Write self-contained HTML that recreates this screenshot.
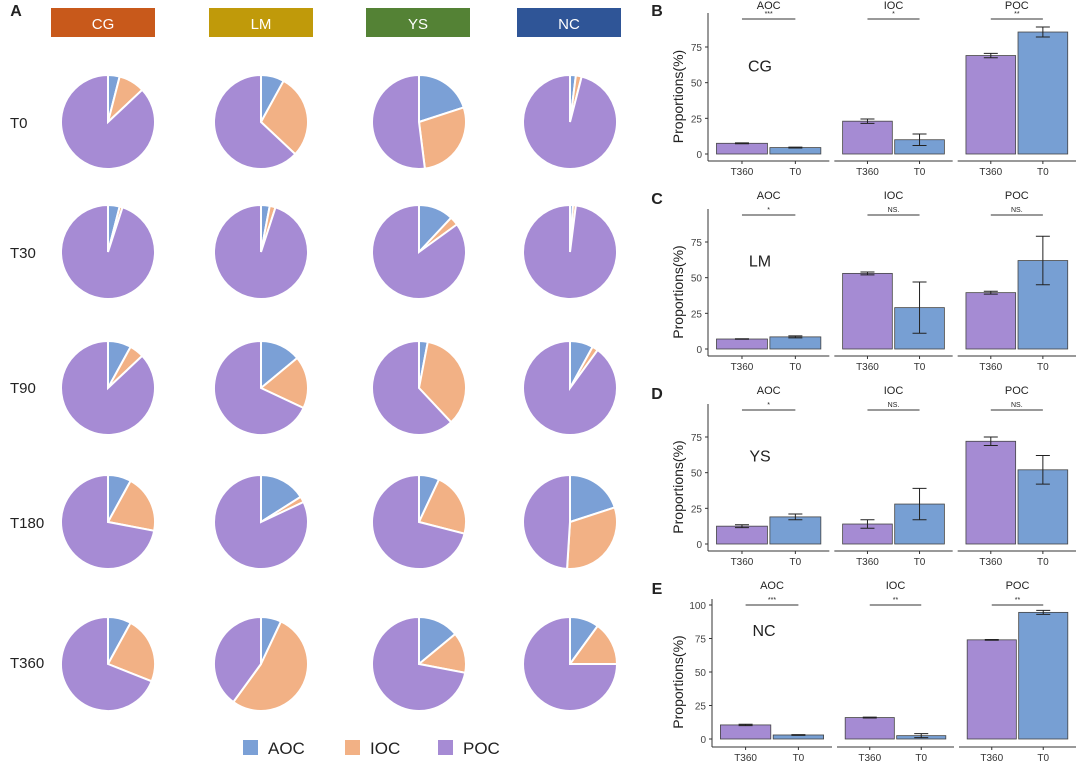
<!DOCTYPE html>
<html><head><meta charset="utf-8"><style>
body{margin:0;background:#fff;}
svg{display:block;font-family:"Liberation Sans",Arial,sans-serif;}
</style></head><body>
<svg id="s" width="1080" height="764" viewBox="0 0 1080 764"></svg>
<script>
// ---- Panel A pie data (percent AOC, IOC; POC = rest) ----
const groups = ["CG","LM","YS","NC"];
const times = ["T0","T30","T90","T180","T360"];
const aocPct = [[4,8,20,2],[4,3,12,1],[8,14,3,8],[8,16,7,20],[8,7,14,10]];
const iocPct = [[9,29,28,2],[1,2,3,1],[5,18,35,2],[20,2,22,31],[23,53,14,15]];
// ---- Panels B-E bar data ----
const fractions = ["AOC","IOC","POC"];
const barGroups = ["CG","LM","YS","NC"];
const t360Vals = [[7.5,23,69],[7,53,39.5],[12.5,14,72],[10.5,16,74]];
const t360Err = [[0.3,1.5,1.5],[0.2,1,1],[1,3,3],[0.5,0.3,0.3]];
const t0Vals = [[4.5,10,85.5],[8.5,29,62],[19,28,52],[3,2.5,94.5]];
const t0Err = [[0.3,4,3.5],[0.7,18,17],[2,11,10],[0.3,1.5,1.5]];
const sigLabels = [["***","*","**"],["*","NS.","NS."],["*","NS.","NS."],["***","**","**"]];
const yTicks = [[0,25,50,75],[0,25,50,75],[0,25,50,75],[0,25,50,75,100]];

const NS="http://www.w3.org/2000/svg";
const svg=document.getElementById('s');
function mk(tag,attrs,parent){const e=document.createElementNS(NS,tag);for(const k in attrs)e.setAttribute(k,attrs[k]);(parent||svg).appendChild(e);return e;}
function txt(x,y,t,size,anchor,parent,extra){const e=mk('text',Object.assign({x:x,y:y,'font-size':size,'text-anchor':anchor||'middle',fill:'#222'},extra||{}),parent);e.textContent=t;return e;}

const C_AOC="#7ba0d6",C_IOC="#f2b185",C_POC="#a68bd4";
let L=txt(16,16,"A",16,'middle');L.setAttribute('font-weight','bold');


const hdrX=[51,209,366,517], hdrCol=["#c8591b","#c09a0a","#548235","#2f5597"];
groups.forEach((g,i)=>{
  const r=mk('rect',{x:hdrX[i],y:8,width:104,height:29,fill:hdrCol[i]});
  
  
  const t=txt(hdrX[i]+52,29,g,15,'middle',svg,{fill:'#fff'});
  
  
});
const pcx=[108,261,419,570], pcy=[122,252,388,522,664], rowLabY=[128,258,393,528,668], R=47;
times.forEach((tm,ri)=>{
  const t=txt(10,rowLabY[ri],tm,15,'start');
  
  
  groups.forEach((g,ci)=>{
    const vals=[aocPct[ri][ci],iocPct[ri][ci],100-aocPct[ri][ci]-iocPct[ri][ci]];
    const cols=[C_AOC,C_IOC,C_POC];
    const gp=mk('g',{});
    
    
    let a=0;const cx=pcx[ci],cy=pcy[ri];
    vals.forEach((v,k)=>{
      const a0=a/100*2*Math.PI,a1=(a+v)/100*2*Math.PI;a+=v;
      const x0=cx+R*Math.sin(a0),y0=cy-R*Math.cos(a0),x1=cx+R*Math.sin(a1),y1=cy-R*Math.cos(a1);
      const large=(a1-a0)>Math.PI?1:0;
      const p=mk('path',{d:`M${cx},${cy}L${x0},${y0}A${R},${R} 0 ${large} 1 ${x1},${y1}Z`,fill:cols[k],stroke:'#fff','stroke-width':2},gp);
      
      
    });
  });
});
const lg=mk('g',{});


[[243,C_AOC,"AOC"],[345,C_IOC,"IOC"],[438,C_POC,"POC"]].forEach(([x,c,n])=>{
  const r=mk('rect',{x:x,y:740,width:15,height:15,fill:c},lg);
  
  
  const t=txt(x+25,754,n,17,'start',lg);
  
  
});

const panels=[
 {letter:"B",letY:16,y0:154,ymaxPx:47,ymaxV:75,axX:708,bot:161,brk:19,hdr:9},
 {letter:"C",letY:204,y0:349,ymaxPx:242,ymaxV:75,axX:708,bot:356,brk:215,hdr:199},
 {letter:"D",letY:399,y0:544,ymaxPx:437,ymaxV:75,axX:708,bot:551,brk:410,hdr:394},
 {letter:"E",letY:594,y0:739,ymaxPx:605,ymaxV:100,axX:712,bot:747,brk:605,hdr:589},
];
panels.forEach((P,pi)=>{
  const g=mk('g',{});
  
  
  const yS=v=>P.y0-(v/P.ymaxV)*(P.y0-P.ymaxPx);
  const lt=txt(657,P.letY,P.letter,16,'middle',g,{'font-weight':'bold'});
  
  
  const yl=txt(0,0,"Proportions(%)",14,'middle',g,{transform:`translate(683,${(P.y0+P.brk)/2+10}) rotate(-90)`});
  
  
  mk('line',{x1:P.axX,x2:P.axX,y1:P.brk-6,y2:P.bot,stroke:'#333','stroke-width':1},g);
  yTicks[pi].forEach(v=>{
    const y=yS(v);
    mk('line',{x1:P.axX-3,x2:P.axX,y1:y,y2:y,stroke:'#333'},g);
    const t=txt(P.axX-6,y+4,String(v),10,'end',g,{fill:'#444'});
    
    
  });
  const gl=txt(P.axX+52,P.y0-(P.y0-P.ymaxPx)*0.77,barGroups[pi],16,'middle',g);
  
  
  const fw=(1078-P.axX)/3;
  fractions.forEach((f,fi)=>{
    const fx0=P.axX+fi*fw+(fi?3:0), fx1=P.axX+(fi+1)*fw-2;
    mk('line',{x1:fx0,x2:fx1,y1:P.bot,y2:P.bot,stroke:'#333'},g);
    const fl=txt((fx0+fx1)/2,P.hdr,f,11,'middle',g);
    
    
    const inner=fx1-fx0, bw=inner*0.42, c1=fx0+inner*0.28, c2=fx0+inner*0.72;
    mk('line',{x1:c1,x2:c2,y1:P.brk,y2:P.brk,stroke:'#333'},g);
    const sg=txt((c1+c2)/2,P.brk-3,sigLabels[pi][fi],7,'middle',g);
    
    
    [[c1,t360Vals,t360Err,"#a58bd3","T360"],[c2,t0Vals,t0Err,"#779fd3","T0"]].forEach(([cx,vals,errs,col,nm])=>{
      const v=vals[pi][fi],e=errs[pi][fi];
      const b=mk('rect',{x:cx-bw/2,y:yS(v),width:bw,height:P.y0-yS(v),fill:col,stroke:'#444','stroke-width':0.8},g);
      
      
      const eh=mk('path',{d:`M${cx-7},${yS(v+e)}H${cx+7}M${cx},${yS(v+e)}V${yS(v-e)}M${cx-7},${yS(v-e)}H${cx+7}`,stroke:'#222',fill:'none','stroke-width':1},g);
      
      
      mk('line',{x1:cx,x2:cx,y1:P.bot,y2:P.bot+3,stroke:'#333'},g);
      const tl=txt(cx,P.bot+14,nm,10,'middle',g,{fill:'#333'});
      
      
    });
  });
});
</script>
</body></html>
